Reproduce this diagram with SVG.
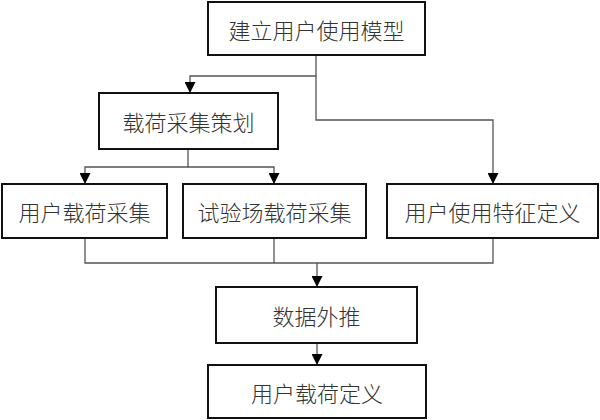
<svg xmlns="http://www.w3.org/2000/svg" width="600" height="420" viewBox="0 0 600 420">
<style>
.box{fill:#fff;stroke:#111;stroke-width:2}
.lbl{font-family:"Noto Sans CJK SC","Noto Sans",sans-serif;font-size:22px;font-weight:300;fill:#333;text-anchor:middle;dominant-baseline:central}
.c{fill:none;stroke:#555;stroke-width:1.3}
</style>
<defs>
<marker id="ar" viewBox="0 0 10 10" refX="10" refY="5" markerWidth="11" markerHeight="11" markerUnits="userSpaceOnUse" orient="auto">
<path d="M0,0 L10,5 L0,10 Z" fill="#000"/>
</marker>
</defs>
<rect width="600" height="420" fill="#fff"/>
<g id="connectors">
<path class="c" d="M316,55 V76 H190 V93" marker-end="url(#ar)"/>
<path class="c" d="M316,76 V120 H493 V184" marker-end="url(#ar)"/>
<path class="c" d="M188,149 V167 H85 V184" marker-end="url(#ar)"/>
<path class="c" d="M188,167 H274 V184" marker-end="url(#ar)"/>
<path class="c" d="M85,238 V263 H493 V238"/>
<path class="c" d="M274,238 V263"/>
<path class="c" d="M317,263 V287" marker-end="url(#ar)"/>
<path class="c" d="M317,343 V365" marker-end="url(#ar)"/>
</g>
<g id="n1"><rect class="box" x="208" y="2" width="217" height="53"/><text class="lbl" x="316.5" y="28.5">建立用户使用模型</text></g>
<g id="n2"><rect class="box" x="99" y="93" width="179" height="56"/><text class="lbl" x="188.5" y="121">载荷采集策划</text></g>
<g id="n3"><rect class="box" x="2" y="184" width="165" height="54"/><text class="lbl" x="84.5" y="211">用户载荷采集</text></g>
<g id="n4"><rect class="box" x="183" y="184" width="183" height="54"/><text class="lbl" x="274.5" y="211">试验场载荷采集</text></g>
<g id="n5"><rect class="box" x="387" y="184" width="211" height="54"/><text class="lbl" x="492.5" y="211">用户使用特征定义</text></g>
<g id="n6"><rect class="box" x="216" y="287" width="201" height="56"/><text class="lbl" x="316.5" y="315">数据外推</text></g>
<g id="n7"><rect class="box" x="208" y="365" width="218" height="53"/><text class="lbl" x="317" y="391.5">用户载荷定义</text></g>
</svg>
